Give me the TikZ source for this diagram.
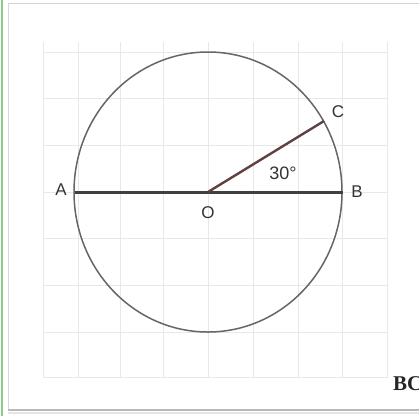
\documentclass[tikz,border=0pt]{standalone}
\usepackage{fontspec}
\setmainfont{Liberation Sans}
\newfontfamily\serifbold{Liberation Serif}
\begin{document}
\begin{tikzpicture}[x=1pt,y=-1pt,
  gridline/.style={draw=gray!18,line width=0.8pt},
  lbl/.style={font=\fontsize{17}{17}\selectfont,text=black!80,inner sep=1pt},
  circ/.style={draw=black!60,line width=1.5pt},
  diam/.style={draw=black!75,line width=3pt},
  radius/.style={draw={rgb,255:red,95;green,65;blue,65},line width=2.4pt}]
\useasboundingbox (0,0) rectangle (419,416);
\fill[white] (0,0) rectangle (419,416);
% frame
\draw[draw=green!55!black!45,line width=2pt] (2,0) -- (2,416);
\draw[draw=gray!35,line width=1pt] (8,3) -- (419,3);
\draw[draw=gray!30,line width=1pt] (8,3) -- (8,410);
\draw[draw=gray!55,line width=1.5pt] (8,410) -- (419,410);
\draw[draw=gray!20,line width=2pt] (8,413) -- (419,413);
% grid
\foreach \gx in {43,78,120,163,208,253,298,342,387}
  \draw[gridline] (\gx,42) -- (\gx,378);
\foreach \gy in {52,98,145,192,238,285,332,377}
  \draw[gridline] (43,\gy) -- (387,\gy);
% points
\coordinate (O) at (208,192);
\coordinate (A) at (75,192);
\coordinate (B) at (343,192);
\coordinate (C) at (324,121);
% angle sector
\fill[red!9] (O) -- (253,192) arc[start angle=0,end angle=-31.5,radius=45] -- cycle;
\draw[draw=red!25!gray!80,line width=1pt] (253,192) arc[start angle=0,end angle=-20,radius=45];
% circle
\draw[circ] (O) ellipse[x radius=134,y radius=140];
% segments
\draw[diam] (A) -- (B);
\draw[radius] (O) -- (C);
\fill[black!75] (O) circle[radius=2.2];
\fill[black!75] (C) circle[radius=2.2];
% labels
\node[lbl] (lA) at (61,190) {A};
\node[lbl] (lB) at (357,192) {B};
\node[lbl] (lO) at (208,213) {O};
\node[lbl] (lC) at (338,112) {C};
\node[lbl,font=\fontsize{18}{18}\selectfont] (lang) at (283,173) {30°};
\node[anchor=base west,inner sep=0pt,font=\serifbold\bfseries\fontsize{21}{21}\selectfont,text=black!85] (bc) at (393,390) {BC};
\end{tikzpicture}
\end{document}
